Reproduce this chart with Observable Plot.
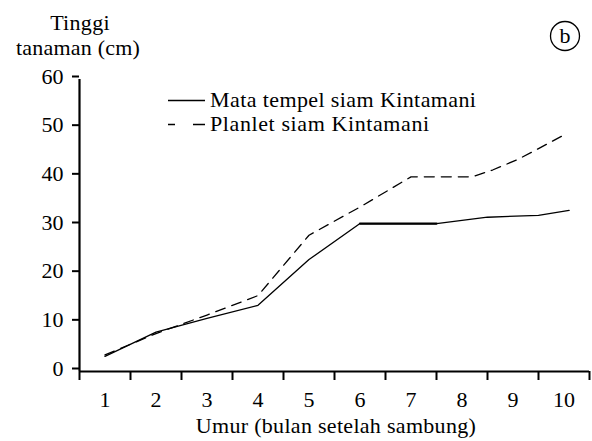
<!DOCTYPE html>
<html><head><meta charset="utf-8">
<script src="https://cdn.jsdelivr.net/npm/d3@7"></script>
<script src="https://cdn.jsdelivr.net/npm/@observablehq/plot@0.6"></script>
</head><body style="margin:0;background:#fff"><div id="wrap" style="position:relative;width:592px;height:441px;font-family:'Liberation Serif'"></div>
<script>
// ---- data ----
const months = [1, 2, 3, 4, 5, 6, 7, 8, 9, 10];
const monthBoundaries = [0.5, 1.5, 2.5, 3.5, 4.5, 5.5, 6.5, 7.5, 8.5, 9.5, 10.5];
const yTicks = [0, 10, 20, 30, 40, 50, 60];
const seriesNames = ["Mata tempel siam Kintamani", "Planlet siam Kintamani"];
const solidMonths = [1, 2, 3, 4, 5, 6, 7.5, 8.5, 9.5, 10.1];
const solidValues = [3.1, 8.1, 10.9, 13.6, 23.0, 30.4, 30.4, 31.7, 32.1, 33.1];
const dashedMonths = [1, 2, 3, 4, 5, 6, 7, 8.2, 8.6, 9.1, 9.5, 10];
const dashedValues = [3.4, 7.8, 11.6, 15.6, 28.0, 33.8, 40.0, 40.0, 41.4, 43.6, 45.8, 48.6];
const yTitle = ["Tinggi", "tanaman (cm)"];
const xTitle = "Umur (bulan setelah sambung)";
const panelLetter = "b";

const solid = solidMonths.map((m, i) => ({month: m, value: solidValues[i]}));
const dashed = dashedMonths.map((m, i) => ({month: m, value: dashedValues[i]}));
const solidFlat = solid.filter(d => d.month >= 6 && d.month <= 7.5);

const W = 592, H = 441;
const chart = Plot.plot({
  width: W, height: H,
  marginLeft: 79, marginRight: 3, marginTop: 79, marginBottom: 70,
  style: {fontSize: "22px", color: "#000", background: "#fff"},
  x: {type: "linear", domain: [0.5, 10.5]},
  y: {domain: [0, 60]},
  marks: [
    Plot.axisX(monthBoundaries, {tickSize: 9, strokeWidth: 2, tickFormat: () => "", label: null}),
    Plot.axisX(months, {tickSize: 0, tickPadding: 20, label: null, fontSize: 22}),
    Plot.axisY(yTicks, {tickSize: 7, strokeWidth: 2, tickPadding: 9, dy: -3, label: null, fontSize: 22}),
    Plot.ruleY([0], {strokeWidth: 2.2}),
    Plot.ruleX([0.5], {strokeWidth: 2.2}),
    Plot.line(solid, {x: "month", y: "value", stroke: "#000", strokeWidth: 1.3}),
    Plot.line(solidFlat, {x: "month", y: "value", stroke: "#000", strokeWidth: 2.2}),
    Plot.line(dashed, {x: "month", y: "value", stroke: "#000", strokeWidth: 1.3, strokeDasharray: "10,7"})
  ]
});
chart.style.position = "absolute"; chart.style.left = "0"; chart.style.top = "0";
chart.style.setProperty("font-family", "'Liberation Serif'", "important");
chart.querySelectorAll("g, text").forEach(el => {
  el.setAttribute("font-family", "Liberation Serif");
  el.style.setProperty("font-family", "'Liberation Serif'", "important");
});
const wrap = document.getElementById("wrap");
wrap.appendChild(chart);

// overlay shapes (legend samples, circle) in svg
const ns = "http://www.w3.org/2000/svg";
const ov = document.createElementNS(ns, "svg");
ov.setAttribute("width", W); ov.setAttribute("height", H);
ov.style.position = "absolute"; ov.style.left = "0"; ov.style.top = "0";
function ln(x1, y1, x2, y2, dash) {
  const l = document.createElementNS(ns, "line");
  l.setAttribute("x1", x1); l.setAttribute("y1", y1);
  l.setAttribute("x2", x2); l.setAttribute("y2", y2);
  l.setAttribute("stroke", "#000"); l.setAttribute("stroke-width", "1.6");
  if (dash) l.setAttribute("stroke-dasharray", dash);
  ov.appendChild(l);
}
ln(168, 100.5, 205, 100.5);
ln(168, 124.5, 205, 124.5, "7 18 12");
const c = document.createElementNS(ns, "circle");
c.setAttribute("cx", 565); c.setAttribute("cy", 36); c.setAttribute("r", 14.5);
c.setAttribute("fill", "none"); c.setAttribute("stroke", "#000"); c.setAttribute("stroke-width", "1.3");
ov.appendChild(c);
wrap.appendChild(ov);

// overlay texts as HTML (baseline = top + 18.4 for 22px / line-height 22px)
function htxt(s, x, baseline, anchor, spacing) {
  const d = document.createElement("div");
  d.textContent = s;
  const shift = anchor === "middle" ? "translateX(-50%)" : "none";
  d.setAttribute("style", "position:absolute;white-space:nowrap;font-family:'Liberation Serif';font-size:22px;line-height:22px;color:#000;letter-spacing:" + (spacing || 0) + "px;left:" + x + "px;top:" + (baseline - 18.4) + "px;transform:" + shift);
  wrap.appendChild(d);
}
htxt(yTitle[0], 80, 30, "middle", 0.3);
htxt(yTitle[1], 78, 55, "middle", 0.2);
htxt(xTitle, 336, 433, "middle", 0.3);
htxt(seriesNames[0], 210, 107, "start", 0.4);
htxt(seriesNames[1], 210, 131, "start", 0.6);
htxt(panelLetter, 565, 43, "middle");
</script></body></html>
